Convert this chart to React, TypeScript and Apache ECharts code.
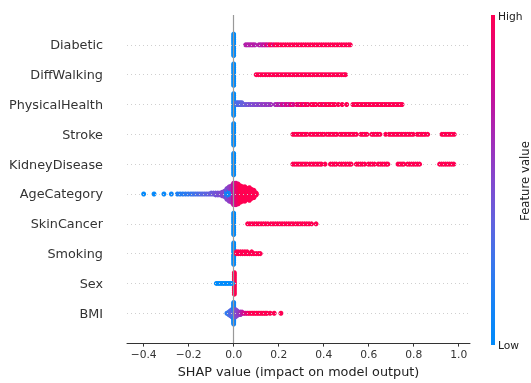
import { useEffect, useRef } from "react";
import * as echarts from "echarts";

// Features, top to bottom
const FEATURES = [
  "Diabetic",
  "DiffWalking",
  "PhysicalHealth",
  "Stroke",
  "KidneyDisease",
  "AgeCategory",
  "SkinCancer",
  "Smoking",
  "Sex",
  "BMI",
];
const X_TICKS = [-0.4, -0.2, 0.0, 0.2, 0.4, 0.6, 0.8, 1.0];
const X_LABEL = "SHAP value (impact on model output)";
const CB_HIGH = "High";
const CB_LOW = "Low";
const CB_TITLE = "Feature value";
const COLOR_STOPS = [
  "#008bfb",
  "#1683f6",
  "#3a76ec",
  "#6262de",
  "#8348ce",
  "#a32cb8",
  "#c3129c",
  "#e3047b",
  "#ff0052",
];

// [shap value, feature value (0 low .. 1 high), count of dots at that value]
type Pt = [number, number, number?];

const DIABETIC: Pt[] = [
  [0, 0, 13],
  [0.053, 0.68], [0.06, 0.7], [0.067, 0.68], [0.074, 0.7], [0.081, 0.68], [0.088, 0.72], [0.095, 0.68],
  [0.112, 0.68], [0.119, 0.72], [0.126, 0.68], [0.133, 0.75], [0.14, 0.7], [0.147, 0.9], [0.154, 0.72], [0.161, 1],
  [0.168, 1], [0.176, 0.85], [0.184, 1], [0.192, 1], [0.2, 1], [0.21, 1], [0.22, 1], [0.23, 1], [0.24, 1],
  [0.25, 1], [0.26, 1], [0.27, 1], [0.28, 1], [0.29, 1], [0.3, 1], [0.31, 1], [0.32, 1], [0.33, 1], [0.34, 1],
  [0.35, 1], [0.36, 1], [0.37, 1], [0.38, 1], [0.39, 1], [0.4, 1], [0.41, 1], [0.42, 1], [0.43, 1], [0.44, 1],
  [0.45, 1], [0.46, 1], [0.47, 1], [0.48, 1], [0.49, 1], [0.5, 1], [0.51, 1], [0.518, 1],
];

const DIFF_WALKING: Pt[] = [
  [0, 0, 13],
  [0.1, 1], [0.11, 1], [0.12, 1], [0.13, 1], [0.14, 1], [0.15, 1], [0.16, 1], [0.17, 1], [0.18, 1], [0.19, 1],
  [0.2, 1], [0.21, 1], [0.22, 1], [0.23, 1], [0.24, 1], [0.25, 1], [0.26, 1], [0.27, 1], [0.28, 1], [0.29, 1],
  [0.3, 1], [0.31, 1], [0.32, 1], [0.33, 1], [0.34, 1], [0.35, 1], [0.36, 1], [0.37, 1], [0.38, 1], [0.39, 1],
  [0.4, 1], [0.41, 1], [0.42, 1], [0.43, 1], [0.44, 1], [0.45, 1], [0.46, 1], [0.47, 1], [0.48, 1], [0.49, 1],
  [0.497, 1],
];

const PHYSICAL_HEALTH: Pt[] = [
  [0, 0, 13],
  [0.012, 0.3, 2], [0.02, 0.32, 2], [0.028, 0.35, 2], [0.036, 0.38, 2], [0.045, 0.4], [0.055, 0.42],
  [0.065, 0.45], [0.075, 0.47], [0.085, 0.48], [0.095, 0.5], [0.105, 0.5], [0.115, 0.52], [0.125, 0.55],
  [0.135, 0.55], [0.145, 0.58], [0.155, 0.55], [0.165, 0.6],
  [0.185, 0.62], [0.195, 0.7], [0.205, 0.65], [0.215, 0.8], [0.225, 0.7], [0.235, 0.85], [0.245, 0.72],
  [0.255, 0.9], [0.265, 0.8], [0.28, 0.95], [0.29, 0.85], [0.3, 1], [0.31, 0.9], [0.32, 1], [0.33, 0.95],
  [0.345, 1], [0.355, 1], [0.365, 1],
  [0.38, 1], [0.39, 1], [0.4, 0.95], [0.41, 1], [0.42, 1], [0.43, 1], [0.44, 1], [0.45, 1], [0.465, 1],
  [0.482, 1], [0.502, 1],
  [0.53, 1], [0.54, 1], [0.55, 1], [0.56, 1], [0.57, 1], [0.58, 1], [0.59, 1], [0.6, 1], [0.61, 1],
  [0.62, 1], [0.63, 1], [0.64, 1], [0.65, 1], [0.66, 1], [0.67, 1], [0.68, 1], [0.69, 1], [0.7, 1],
  [0.71, 1], [0.72, 1], [0.73, 1], [0.74, 1], [0.748, 1],
];

const STROKE: Pt[] = [
  [0, 0, 13],
  [0.263, 1], [0.272, 1], [0.281, 1], [0.29, 1], [0.299, 1], [0.308, 1], [0.317, 1], [0.326, 1],
  [0.34, 1], [0.349, 1], [0.358, 1], [0.367, 1], [0.376, 1], [0.385, 1], [0.394, 1], [0.402, 1],
  [0.414, 1], [0.423, 1], [0.432, 1], [0.441, 1], [0.45, 1], [0.458, 1],
  [0.472, 1], [0.481, 1], [0.49, 1], [0.499, 1], [0.508, 1], [0.517, 1], [0.526, 1], [0.535, 1], [0.545, 1],
  [0.565, 1], [0.574, 1], [0.583, 1], [0.592, 1],
  [0.613, 1], [0.622, 1], [0.631, 1], [0.64, 1], [0.65, 1],
  [0.675, 1],
  [0.69, 1], [0.699, 1], [0.708, 1], [0.717, 1], [0.726, 1], [0.735, 1], [0.744, 1], [0.753, 1],
  [0.762, 1], [0.771, 1], [0.78, 1], [0.789, 1], [0.798, 1],
  [0.815, 1], [0.824, 1], [0.833, 1], [0.842, 1], [0.851, 1], [0.862, 1],
  [0.925, 1], [0.934, 1], [0.943, 1], [0.952, 1], [0.961, 1], [0.97, 1], [0.98, 1],
];

const KIDNEY_DISEASE: Pt[] = [
  [0, 0, 13],
  [0.263, 1], [0.272, 1], [0.281, 1], [0.29, 1], [0.299, 1], [0.308, 1], [0.317, 1], [0.326, 1],
  [0.338, 1], [0.347, 1], [0.356, 1], [0.365, 1], [0.374, 1], [0.383, 1], [0.39, 1],
  [0.406, 1],
  [0.43, 1], [0.439, 1], [0.448, 1], [0.456, 1],
  [0.47, 1], [0.479, 1], [0.488, 1], [0.497, 1], [0.506, 1], [0.515, 1], [0.522, 1],
  [0.545, 1], [0.554, 1], [0.563, 1], [0.572, 1], [0.582, 1],
  [0.598, 1], [0.607, 1], [0.616, 1], [0.626, 1],
  [0.642, 1], [0.651, 1], [0.66, 1], [0.669, 1], [0.678, 1], [0.685, 1],
  [0.73, 1], [0.739, 1], [0.748, 1], [0.756, 1],
  [0.772, 1], [0.781, 1], [0.79, 1], [0.799, 1], [0.808, 1], [0.817, 1], [0.826, 1],
  [0.915, 1], [0.924, 1], [0.933, 1], [0.942, 1], [0.951, 1], [0.96, 1], [0.969, 1], [0.978, 1],
];

const AGE_CATEGORY: Pt[] = [
  [-0.4, 0.02], [-0.354, 0.03], [-0.31, 0.05], [-0.277, 0.08],
  [-0.25, 0.15], [-0.238, 0.17], [-0.226, 0.18], [-0.214, 0.2], [-0.202, 0.22], [-0.19, 0.24],
  [-0.18, 0.26], [-0.17, 0.28], [-0.16, 0.3], [-0.15, 0.32], [-0.14, 0.34], [-0.13, 0.35],
  [-0.12, 0.36], [-0.11, 0.38], [-0.1, 0.4, 2], [-0.09, 0.42, 2], [-0.08, 0.44, 3], [-0.07, 0.46, 3],
  [-0.06, 0.48, 3], [-0.05, 0.5, 5],
  [-0.04, 0.5, 7],
  [-0.03, 0.12, 9], [-0.03, 0.5, 4],
  [-0.02, 0.08, 11], [-0.02, 0.55, 6],
  [-0.01, 0.15, 9], [-0.01, 0.6, 10],
  [0, 0.75, 25],
  [0.01, 0.85, 25], [0.02, 0.95, 23], [0.03, 1, 19], [0.04, 1, 17], [0.05, 1, 17],
  [0.06, 1, 13], [0.07, 1, 15], [0.08, 1, 11], [0.09, 1, 9], [0.1, 1, 3],
];

const SKIN_CANCER: Pt[] = [
  [0, 0, 13],
  [0.062, 1], [0.072, 1], [0.082, 1], [0.092, 1], [0.102, 1], [0.112, 1], [0.122, 1], [0.132, 1], [0.142, 1], [0.152, 1],
  [0.165, 1], [0.175, 1], [0.185, 1], [0.195, 1], [0.205, 1], [0.215, 1], [0.225, 1], [0.235, 1], [0.245, 1], [0.255, 1], [0.264, 1],
  [0.275, 1], [0.285, 1], [0.295, 1], [0.305, 1], [0.315, 1], [0.325, 1], [0.335, 1], [0.346, 1],
  [0.366, 1],
];

const SMOKING: Pt[] = [
  [0, 0, 13],
  [0.012, 1, 2], [0.02, 1, 2], [0.03, 1, 2], [0.04, 1, 2], [0.05, 1, 2], [0.06, 1, 2],
  [0.07, 1], [0.08, 1, 2], [0.09, 1], [0.1, 1], [0.11, 1], [0.118, 1],
];

const SEX: Pt[] = [
  [0.003, 1, 13],
  [-0.005, 0], [-0.013, 0], [-0.021, 0], [-0.029, 0], [-0.037, 0], [-0.045, 0],
  [-0.053, 0], [-0.061, 0], [-0.069, 0], [-0.077, 0],
];

const BMI: Pt[] = [
  [-0.03, 0.2], [-0.022, 0.25, 3], [-0.015, 0.3, 5], [-0.008, 0.35, 7],
  [0, 0.3, 7], [0, 0.1, 12],
  [0.008, 0.45, 7], [0.015, 0.5, 5], [0.022, 0.55, 3], [0.03, 0.6, 3], [0.037, 0.7, 2],
  [0.045, 0.8], [0.053, 0.85], [0.061, 0.9], [0.069, 0.95], [0.077, 1], [0.085, 1], [0.093, 1],
  [0.101, 1], [0.109, 1], [0.117, 1], [0.125, 1], [0.133, 1], [0.141, 1], [0.148, 1],
  [0.162, 1], [0.18, 1], [0.21, 1],
];

const ROWS: Pt[][] = [
  DIABETIC,
  DIFF_WALKING,
  PHYSICAL_HEALTH,
  STROKE,
  KIDNEY_DISEASE,
  AGE_CATEGORY,
  SKIN_CANCER,
  SMOKING,
  SEX,
  BMI,
];

// beeswarm layout like SHAP: stack dots of the same value alternately above/below
function swarm(points: Pt[], row: number): number[][] {
  const totals = new Map<string, number>();
  for (const p of points) {
    const k = p[0].toFixed(4);
    totals.set(k, (totals.get(k) || 0) + (p[2] ?? 1));
  }
  let maxLayer = 0;
  totals.forEach((t) => {
    maxLayer = Math.max(maxLayer, Math.ceil((t - 1) / 2));
  });
  const step = maxLayer > 0 ? 0.36 / maxLayer : 0;
  const used = new Map<string, number>();
  const out: number[][] = [];
  for (const p of points) {
    const k = p[0].toFixed(4);
    let layer = used.get(k) || 0;
    const n = p[2] ?? 1;
    for (let i = 0; i < n; i++, layer++) {
      const off = Math.ceil(layer / 2) * (layer % 2 ? 1 : -1) * step;
      out.push([p[0], row + off, p[1]]);
    }
    used.set(k, layer);
  }
  return out;
}

export default function App() {
  const ref = useRef<HTMLDivElement>(null);

  useEffect(() => {
    if (!ref.current) return;
    const chart = echarts.init(ref.current, undefined, { renderer: "svg" });
    const n = FEATURES.length;
    const points: number[][] = [];
    ROWS.forEach((pts, i) => {
      points.push(...swarm(pts, n - 1 - i));
    });
    const rowValues = FEATURES.map((_, i) => i);
    const font = "DejaVu Sans";

    chart.setOption({
      animation: false,
      textStyle: { fontFamily: font },
      grid: { left: 127, right: 61, top: 15, bottom: 37 },
      xAxis: {
        type: "value",
        min: -0.474,
        max: 1.05,
        splitLine: { show: false },
        axisLine: { show: true, onZero: false, lineStyle: { color: "#333333", width: 1 } },
        axisTick: {
          show: true,
          customValues: X_TICKS,
          length: 3.5,
          lineStyle: { color: "#333333", width: 1 },
        },
        axisLabel: {
          customValues: X_TICKS,
          color: "#333333",
          fontSize: 10.7,
          fontFamily: font,
          margin: 6,
          formatter: (v: number) =>
            v < 0 ? "\u2212" + Math.abs(v).toFixed(1) : v.toFixed(1),
        },
        name: X_LABEL,
        nameLocation: "middle",
        nameGap: 20,
        nameTextStyle: { color: "#222222", fontSize: 12.8, fontFamily: font },
      },
      yAxis: {
        type: "value",
        min: -1,
        max: n,
        splitLine: { show: false },
        axisLine: { show: false, onZero: false },
        axisTick: { show: false },
        axisLabel: {
          customValues: rowValues,
          color: "#333333",
          fontSize: 12.8,
          fontFamily: font,
          margin: 24,
          formatter: (v: number) => FEATURES[n - 1 - Math.round(v)] ?? "",
        },
      },
      visualMap: [
        {
          type: "continuous",
          show: false,
          dimension: 2,
          min: 0,
          max: 1,
          seriesIndex: 1,
          inRange: { color: COLOR_STOPS },
        },
      ],
      series: [
        {
          type: "scatter",
          data: [],
          z: 1,
          silent: true,
          markLine: {
            silent: true,
            symbol: "none",
            label: { show: false },
            data: [
              ...rowValues.map((v) => ({
                yAxis: v,
                lineStyle: { color: "#cfcfcf", width: 1, type: [1, 3] },
              })),
              { xAxis: 0, lineStyle: { color: "#999999", width: 1.2, type: "solid" } },
            ],
          },
        },
        {
          type: "scatter",
          z: 2,
          symbol: "circle",
          symbolSize: 5,
          progressive: 0,
          itemStyle: { opacity: 1 },
          data: points,
        },
      ],
      graphic: [
        {
          type: "rect",
          shape: { x: 491, y: 15, width: 4, height: 330 },
          style: {
            fill: new echarts.graphic.LinearGradient(
              0,
              0,
              0,
              1,
              COLOR_STOPS.slice()
                .reverse()
                .map((c, i) => ({ offset: i / (COLOR_STOPS.length - 1), color: c }))
            ),
          },
        },
        {
          type: "text",
          x: 498,
          y: 16,
          style: {
            text: CB_HIGH,
            fill: "#222222",
            fontSize: 10.7,
            fontFamily: font,
            verticalAlign: "middle",
            align: "left",
          },
        },
        {
          type: "text",
          x: 498,
          y: 345,
          style: {
            text: CB_LOW,
            fill: "#222222",
            fontSize: 10.7,
            fontFamily: font,
            verticalAlign: "middle",
            align: "left",
          },
        },
        {
          type: "text",
          x: 525,
          y: 181,
          rotation: Math.PI / 2,
          style: {
            text: CB_TITLE,
            fill: "#222222",
            fontSize: 11.7,
            fontFamily: font,
            verticalAlign: "middle",
            align: "center",
          },
        },
      ],
    });

    return () => chart.dispose();
  }, []);

  return (
    <div
      ref={ref}
      style={{ position: "fixed", left: 0, top: 0, width: 531, height: 383 }}
    />
  );
}
